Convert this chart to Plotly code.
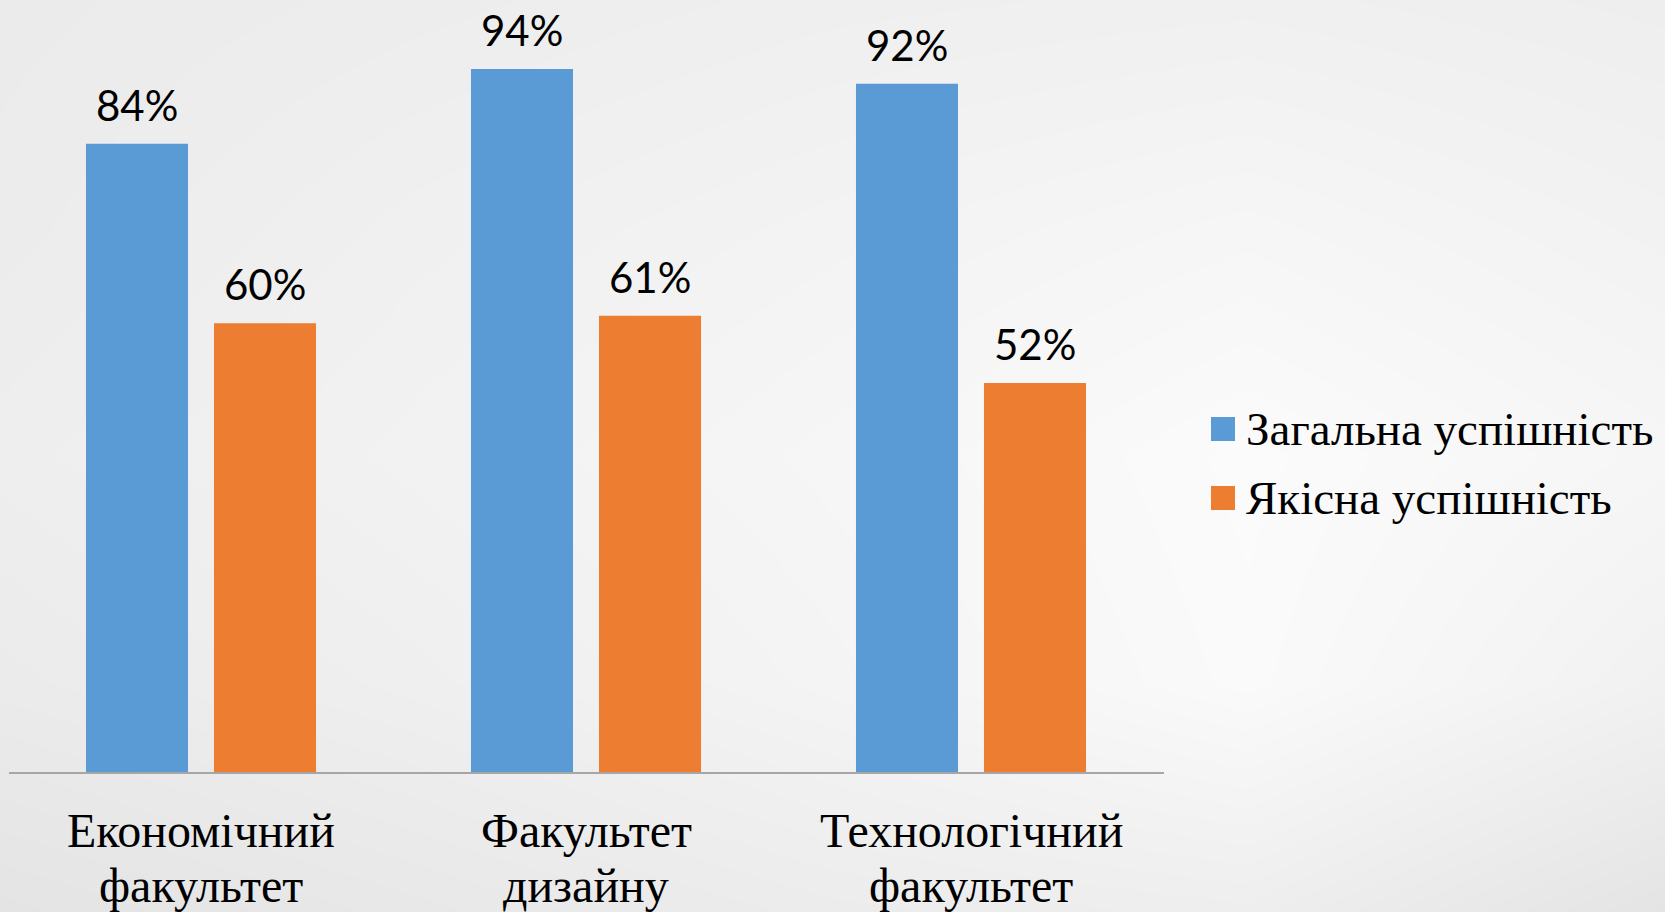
import plotly.graph_objects as go

# ---------------- data ----------------
categories = ["Економічний<br>факультет", "Факультет<br>дизайну", "Технологічний<br>факультет"]
series_names = ["Загальна успішність", "Якісна успішність"]
general_success = [84, 94, 92]
quality_success = [60, 61, 52]
series_values = [general_success, quality_success]
series_colors = ["#5B9BD5", "#ED7D31"]

# background gradient (grey levels) - style only
bg_x = [0, 416, 832, 1248, 1665]
bg_y = [0, 228, 456, 684, 912]
bg_levels = [
    [235, 237, 239, 240, 238],
    [236, 240, 243, 246, 242],
    [238, 242, 246, 251, 246],
    [235, 239, 244, 250, 241],
    [228, 232, 236, 238, 228],
]

W, H = 1665, 912
plot_left, plot_right = 8.5, 1163.5
plot_bottom, plot_top = 772, 24

fig = go.Figure()

# background
fig.add_trace(go.Heatmap(
    x=bg_x, y=bg_y, z=bg_levels, zmin=0, zmax=255,
    colorscale=[[0, "rgb(0,0,0)"], [1, "rgb(255,255,255)"]],
    zsmooth="best", showscale=False, hoverinfo="skip",
    xaxis="x", yaxis="y",
))

for name, vals, col in zip(series_names, series_values, series_colors):
    fig.add_trace(go.Bar(
        x=categories, y=vals, name=name, marker=dict(color=col, line=dict(width=0)),
        xaxis="x2", yaxis="y2", showlegend=False, hoverinfo="skip",
    ))

annotations = []
label_font = dict(family="Lato, Carlito, Calibri, sans-serif", size=42, color="#000000")
bar_offsets = [-64, 64]
for vals, off in zip(series_values, bar_offsets):
    for c, v in zip(categories, vals):
        annotations.append(dict(
            x=c, y=v, xref="x2", yref="y2", xshift=off, yshift=12,
            text=f"{v}%", showarrow=False, yanchor="bottom", xanchor="center",
            font=label_font,
        ))

# category labels (two lines each)
cat_font = dict(family="Liberation Serif, Times New Roman, serif", size=48, color="#000000")
line_centers = [830, 885]
for c in categories:
    for ln, yc in zip(c.split("<br>"), line_centers):
        annotations.append(dict(
            x=c, xref="x2", y=1 - yc / H, yref="paper", text=ln, showarrow=False,
            xanchor="center", yanchor="middle", font=cat_font,
        ))

# legend (manual, to match square size)
shapes = []
leg_font = dict(family="Liberation Serif, Times New Roman, serif", size=47, color="#000000")
leg_rows = [429, 498]
for name, col, yc in zip(series_names, series_colors, leg_rows):
    shapes.append(dict(
        type="rect", xref="paper", yref="paper",
        x0=1211 / W, x1=1235 / W, y0=1 - (yc - 12) / H, y1=1 - (yc + 12) / H,
        fillcolor=col, line=dict(width=0),
    ))
    annotations.append(dict(
        x=1244 / W, y=1 - yc / H, xref="paper", yref="paper", text=name,
        showarrow=False, xanchor="left", yanchor="middle", font=leg_font,
    ))

fig.update_layout(
    width=W, height=H,
    margin=dict(l=0, r=0, t=0, b=0, pad=0),
    paper_bgcolor="#ffffff", plot_bgcolor="rgba(0,0,0,0)",
    barmode="group", bargap=0.335, bargroupgap=0.203,
    showlegend=False,
    xaxis=dict(domain=[0, 1], range=[0, W], visible=False, fixedrange=True),
    yaxis=dict(domain=[0, 1], range=[H, 0], visible=False, fixedrange=True),
    xaxis2=dict(domain=[plot_left / W, plot_right / W], anchor="y2",
                showline=True, linecolor="#a6a6a6", linewidth=1.5,
                showticklabels=False, ticks="", showgrid=False, zeroline=False),
    yaxis2=dict(domain=[1 - plot_bottom / H, 1 - plot_top / H], anchor="x2", range=[0, 100],
                visible=False, showgrid=False, zeroline=False),
    annotations=annotations, shapes=shapes,
)

fig.write_html("out.html", config={"displayModeBar": False},
               post_script="document.body.style.margin='0';document.body.style.overflow='hidden';")
